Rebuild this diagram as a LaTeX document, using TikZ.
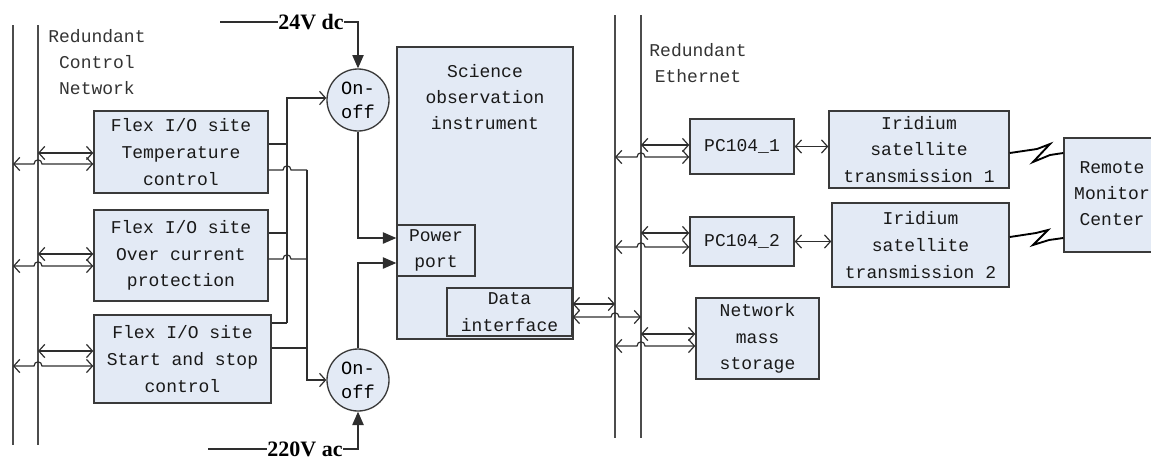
\documentclass[tikz,border=0pt]{standalone}
\usepackage{fontspec}
\usetikzlibrary{arrows.meta}
\newfontfamily\monof{Liberation Mono}
\newfontfamily\serf{Liberation Serif}
\definecolor{boxfill}{HTML}{E3EAF5}
\definecolor{edge}{HTML}{3A3A3A}
\definecolor{wire}{HTML}{2E2E2E}
\tikzset{
  box/.style={draw=edge, fill=boxfill, line width=1.1pt, inner sep=0pt, align=center,
    font=\monof\fontsize{13.5}{20}\selectfont, text=black!90},
  onoff/.style={draw=edge, fill=boxfill, line width=1pt, circle, minimum size=46.5pt, inner sep=0pt,
    align=center, font=\monof\fontsize{14}{18}\selectfont},
  lbl/.style={align=center, font=\monof\fontsize{13.5}{19.5}\selectfont, text=black!80},
  pwr/.style={inner sep=0pt, font=\serf\bfseries\fontsize{16.5}{18}\selectfont},
  wirel/.style={draw=wire, line width=0.9pt},
  bus/.style={draw=black!70, line width=1.1pt},
  bi/.style={wirel, {Straight Barb[length=4.5pt,width=10pt]}-{Straight Barb[length=4.5pt,width=10pt]}},
  opento/.style={wirel, -{Straight Barb[length=4.5pt,width=10pt]}},
  filled/.style={wirel, -{Triangle[length=10pt,width=8.5pt]}},
  bolt/.style={draw=black, line width=1.4pt, line join=miter},
}
\begin{document}
\begin{tikzpicture}[x=0.75pt,y=-0.75pt]
\useasboundingbox (0,0) rectangle (1151,461);
\clip (0,0) rectangle (1151,461);

% ---- buses
\coordinate (b1t) at (13,25);  \coordinate (b1b) at (13,445);
\coordinate (b2t) at (38,25);  \coordinate (b2b) at (38,445);
\coordinate (e1t) at (615,15); \coordinate (e1b) at (615,438);
\coordinate (e2t) at (641,15); \coordinate (e2b) at (641,438);
\draw[bus] (b1t) -- (b1b);
\draw[bus] (b2t) -- (b2b);
\draw[bus] (e1t) -- (e1b);
\draw[bus] (e2t) -- (e2b);

\node[lbl] (rcn) at (97,62) {Redundant\\Control\\Network};
\node[lbl] (ren) at (698,63.5) {Redundant\\Ethernet};

% ---- boxes
\node[box, minimum width=130.5pt, minimum height=61.5pt] (f1) at (181,152) {Flex I/O site\\Temperature\\control};
\node[box, minimum width=130.5pt, minimum height=68.25pt] (f2) at (181,255.5) {Flex I/O site\\Over current\\protection};
\node[box, minimum width=132.75pt, minimum height=66pt] (f3) at (182.5,359) {Flex I/O site\\Start and stop\\control};

\node[box, minimum width=132pt, minimum height=219pt] (sci) at (485,193) {};
\node[lbl, text=black!90] (scit) at (485,97) {Science\\observation\\instrument};
\node[box, minimum width=58.5pt, minimum height=38.25pt] (pp) at (436,250.5) {Power\\port};
\node[box, minimum width=93.75pt, minimum height=36pt] (di) at (509.5,312) {Data\\interface};

\node[onoff] (on1) at (358,100) {On-\\off};
\node[onoff] (on2) at (358,380) {On-\\off};

\node[box, minimum width=78pt, minimum height=41.25pt] (pc1) at (742,146.5) {PC104\_1};
\node[box, minimum width=78pt, minimum height=36.75pt] (pc2) at (742,241.5) {PC104\_2};
\node[box, minimum width=92.25pt, minimum height=60.75pt] (nms) at (757.5,338.5) {Network\\mass\\storage};
\node[box, minimum width=135pt, minimum height=57.75pt] (ir1) at (919,149.5) {Iridium\\satellite\\transmission 1};
\node[box, minimum width=132.75pt, minimum height=63pt] (ir2) at (920.5,245) {Iridium\\satellite\\transmission 2};
\node[box, minimum width=73.5pt, minimum height=85.5pt] (rmc) at (1113,195) {};
\node[lbl, text=black!90] (rmct) at (1112,194) {Remote\\Monitor\\Center};

% ---- control network links
\draw[bi] (38,153) -- (f1.west |- 0,153);
\draw[bi] (13,164) -- (34,164) .. controls (34,158.5) and (42,158.5) .. (42,164) -- (f1.west |- 0,164);
\draw[bi] (38,254) -- (f2.west |- 0,254);
\draw[bi] (13,266) -- (34,266) .. controls (34,260.5) and (42,260.5) .. (42,266) -- (f2.west |- 0,266);
\draw[bi] (38,351) -- (f3.west |- 0,351);
\draw[bi] (13,366) -- (34,366) .. controls (34,360.5) and (42,360.5) .. (42,366) -- (f3.west |- 0,366);

% ---- control wiring to on-off switches
\coordinate (ja) at (287,98);
\coordinate (jb) at (307,380);
\draw[wirel] (f1.east |- 0,144) -- (287,144);
\draw[wirel] (f2.east |- 0,233) -- (287,233);
\draw[wirel] (f3.east |- 0,323) -- (287,323);
\draw[opento] (287,323) -- (ja) -- (on1.west |- ja);
\draw[wirel] (f1.east |- 0,170) -- (283,170) .. controls (283,164.5) and (291,164.5) .. (291,170) -- (307,170);
\draw[wirel] (f2.east |- 0,259) -- (283,259) .. controls (283,253.5) and (291,253.5) .. (291,259) -- (307,259);
\draw[wirel] (f3.east |- 0,348) -- (307,348);
\draw[opento] (307,170) -- (jb) -- (on2.west);

% ---- power supply
\node[pwr] (v24) at (311,22) {24V dc};
\node[pwr] (v220) at (305,449) {220V ac};
\draw[wirel] (220,22) -- (v24.west);
\draw[filled] (v24.east) -- (358,22) -- (on1.north);
\draw[wirel] (208,449) -- (v220.west);
\draw[filled] (v220.east) -- (358,449) -- (on2.south);
\draw[filled] (on1.south) -- (358,238) -- (sci.west |- 0,238);
\draw[filled] (on2.north) -- (358,263) -- (sci.west |- 0,263);

% ---- ethernet links
\draw[bi] (di.east |- 0,304) -- (615,304);
\draw[bi] (di.east |- 0,317) -- (611,317) .. controls (611,311.5) and (619,311.5) .. (619,317) -- (641,317);
\draw[bi] (641,145) -- (pc1.west |- 0,145);
\draw[bi] (615,157) -- (637,157) .. controls (637,151.5) and (645,151.5) .. (645,157) -- (pc1.west |- 0,157);
\draw[bi] (641,233) -- (pc2.west |- 0,233);
\draw[bi] (615,247) -- (637,247) .. controls (637,241.5) and (645,241.5) .. (645,247) -- (pc2.west |- 0,247);
\draw[bi] (641,334) -- (nms.west |- 0,334);
\draw[bi] (615,346) -- (637,346) .. controls (637,340.5) and (645,340.5) .. (645,346) -- (nms.west |- 0,346);

\draw[bi] (pc1.east) -- (pc1.east -| ir1.west);
\draw[bi] (pc2.east) -- (pc2.east -| ir2.west);

% ---- satellite links
\draw[bolt] (ir1.east |- 0,153) -- (1037,149) -- (1050,144) -- (1033,162) -- (1050,155) -- (rmc.west |- 0,153);
\draw[bolt] (ir2.east |- 0,237) -- (1036,233) -- (1048,230) -- (1033,245) -- (1049,240) -- (rmc.west |- 0,238);
\end{tikzpicture}
\end{document}
